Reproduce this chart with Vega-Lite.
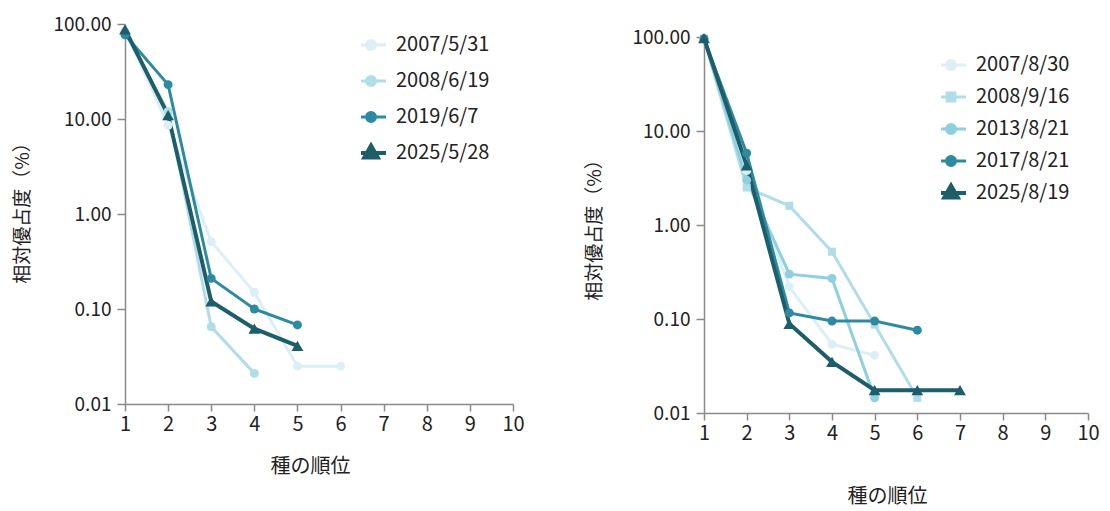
{
  "$schema": "https://vega.github.io/schema/vega-lite/v6.json",
  "background": "white",
  "padding": {"left": 13, "top": 15, "right": 5, "bottom": 5},
  "config": {
    "view": {"stroke": null},
    "font": "Noto Sans CJK JP",
    "axis": {
      "domainColor": "#8a8a8a", "domainWidth": 1.5,
      "tickColor": "#8a8a8a", "tickWidth": 1.5,
      "grid": false,
      "labelColor": "#222222", "titleColor": "#222222",
      "labelFont": "Noto Sans CJK JP", "titleFont": "Noto Sans CJK JP",
      "titleFontWeight": "normal"
    },
    "axisX": {"tickSize": 7, "labelPadding": 3, "labelFontSize": 20, "titleFontSize": 20, "labelFlush": false},
    "axisY": {"tickSize": 8, "labelPadding": 6, "labelFontSize": 19, "titleFontSize": 19}
  },
  "spacing": 60,
  "resolve": {"scale": {"color": "independent", "x": "independent", "y": "independent"}, "legend": {"color": "independent"}},
  "hconcat": [
    {
      "width": 388,
      "height": 380,
      "data": {"values": [
        {"date": "2007/5/31", "rank": 1, "value": 85},
        {"date": "2007/5/31", "rank": 2, "value": 8.6},
        {"date": "2007/5/31", "rank": 3, "value": 0.51},
        {"date": "2007/5/31", "rank": 4, "value": 0.15},
        {"date": "2007/5/31", "rank": 5, "value": 0.025},
        {"date": "2007/5/31", "rank": 6, "value": 0.025},
        {"date": "2008/6/19", "rank": 1, "value": 82},
        {"date": "2008/6/19", "rank": 2, "value": 12},
        {"date": "2008/6/19", "rank": 3, "value": 0.065},
        {"date": "2008/6/19", "rank": 4, "value": 0.021},
        {"date": "2019/6/7", "rank": 1, "value": 77},
        {"date": "2019/6/7", "rank": 2, "value": 23},
        {"date": "2019/6/7", "rank": 3, "value": 0.21},
        {"date": "2019/6/7", "rank": 4, "value": 0.10},
        {"date": "2019/6/7", "rank": 5, "value": 0.068},
        {"date": "2025/5/28", "rank": 1, "value": 88},
        {"date": "2025/5/28", "rank": 2, "value": 11},
        {"date": "2025/5/28", "rank": 3, "value": 0.12},
        {"date": "2025/5/28", "rank": 4, "value": 0.062},
        {"date": "2025/5/28", "rank": 5, "value": 0.041}
      ]},
      "encoding": {
        "x": {"field": "rank", "type": "quantitative", "scale": {"domain": [1, 10], "nice": false, "zero": false},
              "axis": {"values": [1,2,3,4,5,6,7,8,9,10], "title": "種の順位", "titlePadding": 22, "titleX": 185}},
        "y": {"field": "value", "type": "quantitative", "scale": {"type": "log", "domain": [0.01, 100], "nice": false},
              "axis": {"values": [0.01, 0.1, 1, 10, 100], "format": ".2f", "title": "相対優占度（%）", "titlePadding": 20, "titleY": 184}},
        "color": {"field": "date", "type": "nominal",
                  "scale": {"domain": ["2007/5/31", "2008/6/19", "2019/6/7", "2025/5/28"], "range": ["#dceff5", "#b0dde7", "#2e8aa1", "#1d5e6b"]},
                  "legend": {
                    "orient": "none", "legendX": 236, "legendY": 6, "title": null, "padding": 0,
                    "symbolSize": 900, "labelFontSize": 20, "labelColor": "#222222", "labelOffset": 15, "rowPadding": 6, "clipHeight": 30,
                    "labelFont": "Noto Sans CJK JP",
                    "encode": {"symbols": {"update": {
                      "shape": {"signal": "datum.value === '2025/5/28' ? 'M-1,0H1M0,-0.5L0.45,0.3L-0.45,0.3Z' : 'M-1,0H1M0.3,0A0.3,0.3,0,1,1,-0.3,0A0.3,0.3,0,1,1,0.3,0Z'"},
                      "strokeWidth": {"signal": "datum.value === '2025/5/28' ? 4 : 3"},
                      "stroke": {"signal": "datum.value === '2007/5/31' ? '#dceff5' : datum.value === '2008/6/19' ? '#b0dde7' : datum.value === '2019/6/7' ? '#2e8aa1' : '#1d5e6b'"},
                      "fill": {"signal": "datum.value === '2007/5/31' ? '#dceff5' : datum.value === '2008/6/19' ? '#b0dde7' : datum.value === '2019/6/7' ? '#2e8aa1' : '#1d5e6b'"},
                      "opacity": {"value": 1}, "fillOpacity": {"value": 1}, "strokeOpacity": {"value": 1}
                    }}}
                  }}
      },
      "layer": [
        {"mark": {"type": "line"},
         "encoding": {"strokeWidth": {"condition": {"test": "datum.date === '2025/5/28'", "value": 4}, "value": 3}}},
        {"mark": {"type": "point", "filled": true, "opacity": 1},
         "encoding": {
           "shape": {"condition": {"test": "datum.date === '2025/5/28'", "value": "triangle-up"}, "value": "circle"},
           "size": {"condition": {"test": "datum.date === '2025/5/28'", "value": 140}, "value": 80}
         }}
      ]
    },
    {
      "spacing": 0,
      "vconcat": [
        {
          "width": 384,
          "height": 1,
          "data": {"values": [{"a": 1}]},
          "mark": {"type": "point", "opacity": 0},
          "encoding": {}
        },
        {
          "width": 384,
          "height": 376,
          "data": {"values": [
            {"date": "2007/8/30", "rank": 1, "value": 96},
            {"date": "2007/8/30", "rank": 2, "value": 3.8},
            {"date": "2007/8/30", "rank": 3, "value": 0.22},
            {"date": "2007/8/30", "rank": 4, "value": 0.054},
            {"date": "2007/8/30", "rank": 5, "value": 0.041},
            {"date": "2008/9/16", "rank": 1, "value": 96},
            {"date": "2008/9/16", "rank": 2, "value": 2.5},
            {"date": "2008/9/16", "rank": 3, "value": 1.6},
            {"date": "2008/9/16", "rank": 4, "value": 0.52},
            {"date": "2008/9/16", "rank": 5, "value": 0.087},
            {"date": "2008/9/16", "rank": 6, "value": 0.0145},
            {"date": "2013/8/21", "rank": 1, "value": 96},
            {"date": "2013/8/21", "rank": 2, "value": 3.0},
            {"date": "2013/8/21", "rank": 3, "value": 0.30},
            {"date": "2013/8/21", "rank": 4, "value": 0.27},
            {"date": "2013/8/21", "rank": 5, "value": 0.0145},
            {"date": "2017/8/21", "rank": 1, "value": 96},
            {"date": "2017/8/21", "rank": 2, "value": 5.8},
            {"date": "2017/8/21", "rank": 3, "value": 0.116},
            {"date": "2017/8/21", "rank": 4, "value": 0.095},
            {"date": "2017/8/21", "rank": 5, "value": 0.095},
            {"date": "2017/8/21", "rank": 6, "value": 0.076},
            {"date": "2025/8/19", "rank": 1, "value": 97},
            {"date": "2025/8/19", "rank": 2, "value": 4.3},
            {"date": "2025/8/19", "rank": 3, "value": 0.089},
            {"date": "2025/8/19", "rank": 4, "value": 0.035},
            {"date": "2025/8/19", "rank": 5, "value": 0.0175},
            {"date": "2025/8/19", "rank": 6, "value": 0.0175},
            {"date": "2025/8/19", "rank": 7, "value": 0.0175}
          ]},
          "encoding": {
            "x": {"field": "rank", "type": "quantitative", "scale": {"domain": [1, 10], "nice": false, "zero": false},
                  "axis": {"values": [1,2,3,4,5,6,7,8,9,10], "title": "種の順位", "titlePadding": 43, "titleX": 183}},
            "y": {"field": "value", "type": "quantitative", "scale": {"type": "log", "domain": [0.01, 100], "nice": false},
                  "axis": {"values": [0.01, 0.1, 1, 10, 100], "format": ".2f", "title": "相対優占度（%）", "titlePadding": 27}},
            "color": {"field": "date", "type": "nominal",
                      "scale": {"domain": ["2007/8/30", "2008/9/16", "2013/8/21", "2017/8/21", "2025/8/19"], "range": ["#dceff5", "#b0dde7", "#8ecfe0", "#2e8aa1", "#1d5e6b"]},
                      "legend": {
                        "orient": "none", "legendX": 237, "legendY": 26, "title": null, "padding": 0,
                        "symbolSize": 900, "labelFontSize": 20, "labelColor": "#222222", "labelOffset": 15, "rowPadding": 2, "clipHeight": 30,
                        "labelFont": "Noto Sans CJK JP",
                        "encode": {"symbols": {"update": {
                          "shape": {"signal": "datum.value === '2025/8/19' ? 'M-1,0H1M0,-0.5L0.45,0.3L-0.45,0.3Z' : datum.value === '2008/9/16' ? 'M-1,0H1M-0.26,-0.26H0.26V0.26H-0.26Z' : 'M-1,0H1M0.3,0A0.3,0.3,0,1,1,-0.3,0A0.3,0.3,0,1,1,0.3,0Z'"},
                          "strokeWidth": {"signal": "datum.value === '2025/8/19' ? 4 : 3"},
                          "stroke": {"signal": "datum.value === '2007/8/30' ? '#dceff5' : datum.value === '2008/9/16' ? '#b0dde7' : datum.value === '2013/8/21' ? '#8ecfe0' : datum.value === '2017/8/21' ? '#2e8aa1' : '#1d5e6b'"},
                          "fill": {"signal": "datum.value === '2007/8/30' ? '#dceff5' : datum.value === '2008/9/16' ? '#b0dde7' : datum.value === '2013/8/21' ? '#8ecfe0' : datum.value === '2017/8/21' ? '#2e8aa1' : '#1d5e6b'"},
                          "opacity": {"value": 1}, "fillOpacity": {"value": 1}, "strokeOpacity": {"value": 1}
                        }}}
                      }}
          },
          "layer": [
            {"mark": {"type": "line"},
             "encoding": {"strokeWidth": {"condition": {"test": "datum.date === '2025/8/19'", "value": 4}, "value": 3}}},
            {"mark": {"type": "point", "filled": true, "opacity": 1},
             "encoding": {
               "shape": {"condition": [{"test": "datum.date === '2025/8/19'", "value": "triangle-up"}, {"test": "datum.date === '2008/9/16'", "value": "square"}], "value": "circle"},
               "size": {"condition": [{"test": "datum.date === '2025/8/19'", "value": 140}, {"test": "datum.date === '2008/9/16'", "value": 64}], "value": 80}
             }}
          ]
        }
      ]
    }
  ]
}
